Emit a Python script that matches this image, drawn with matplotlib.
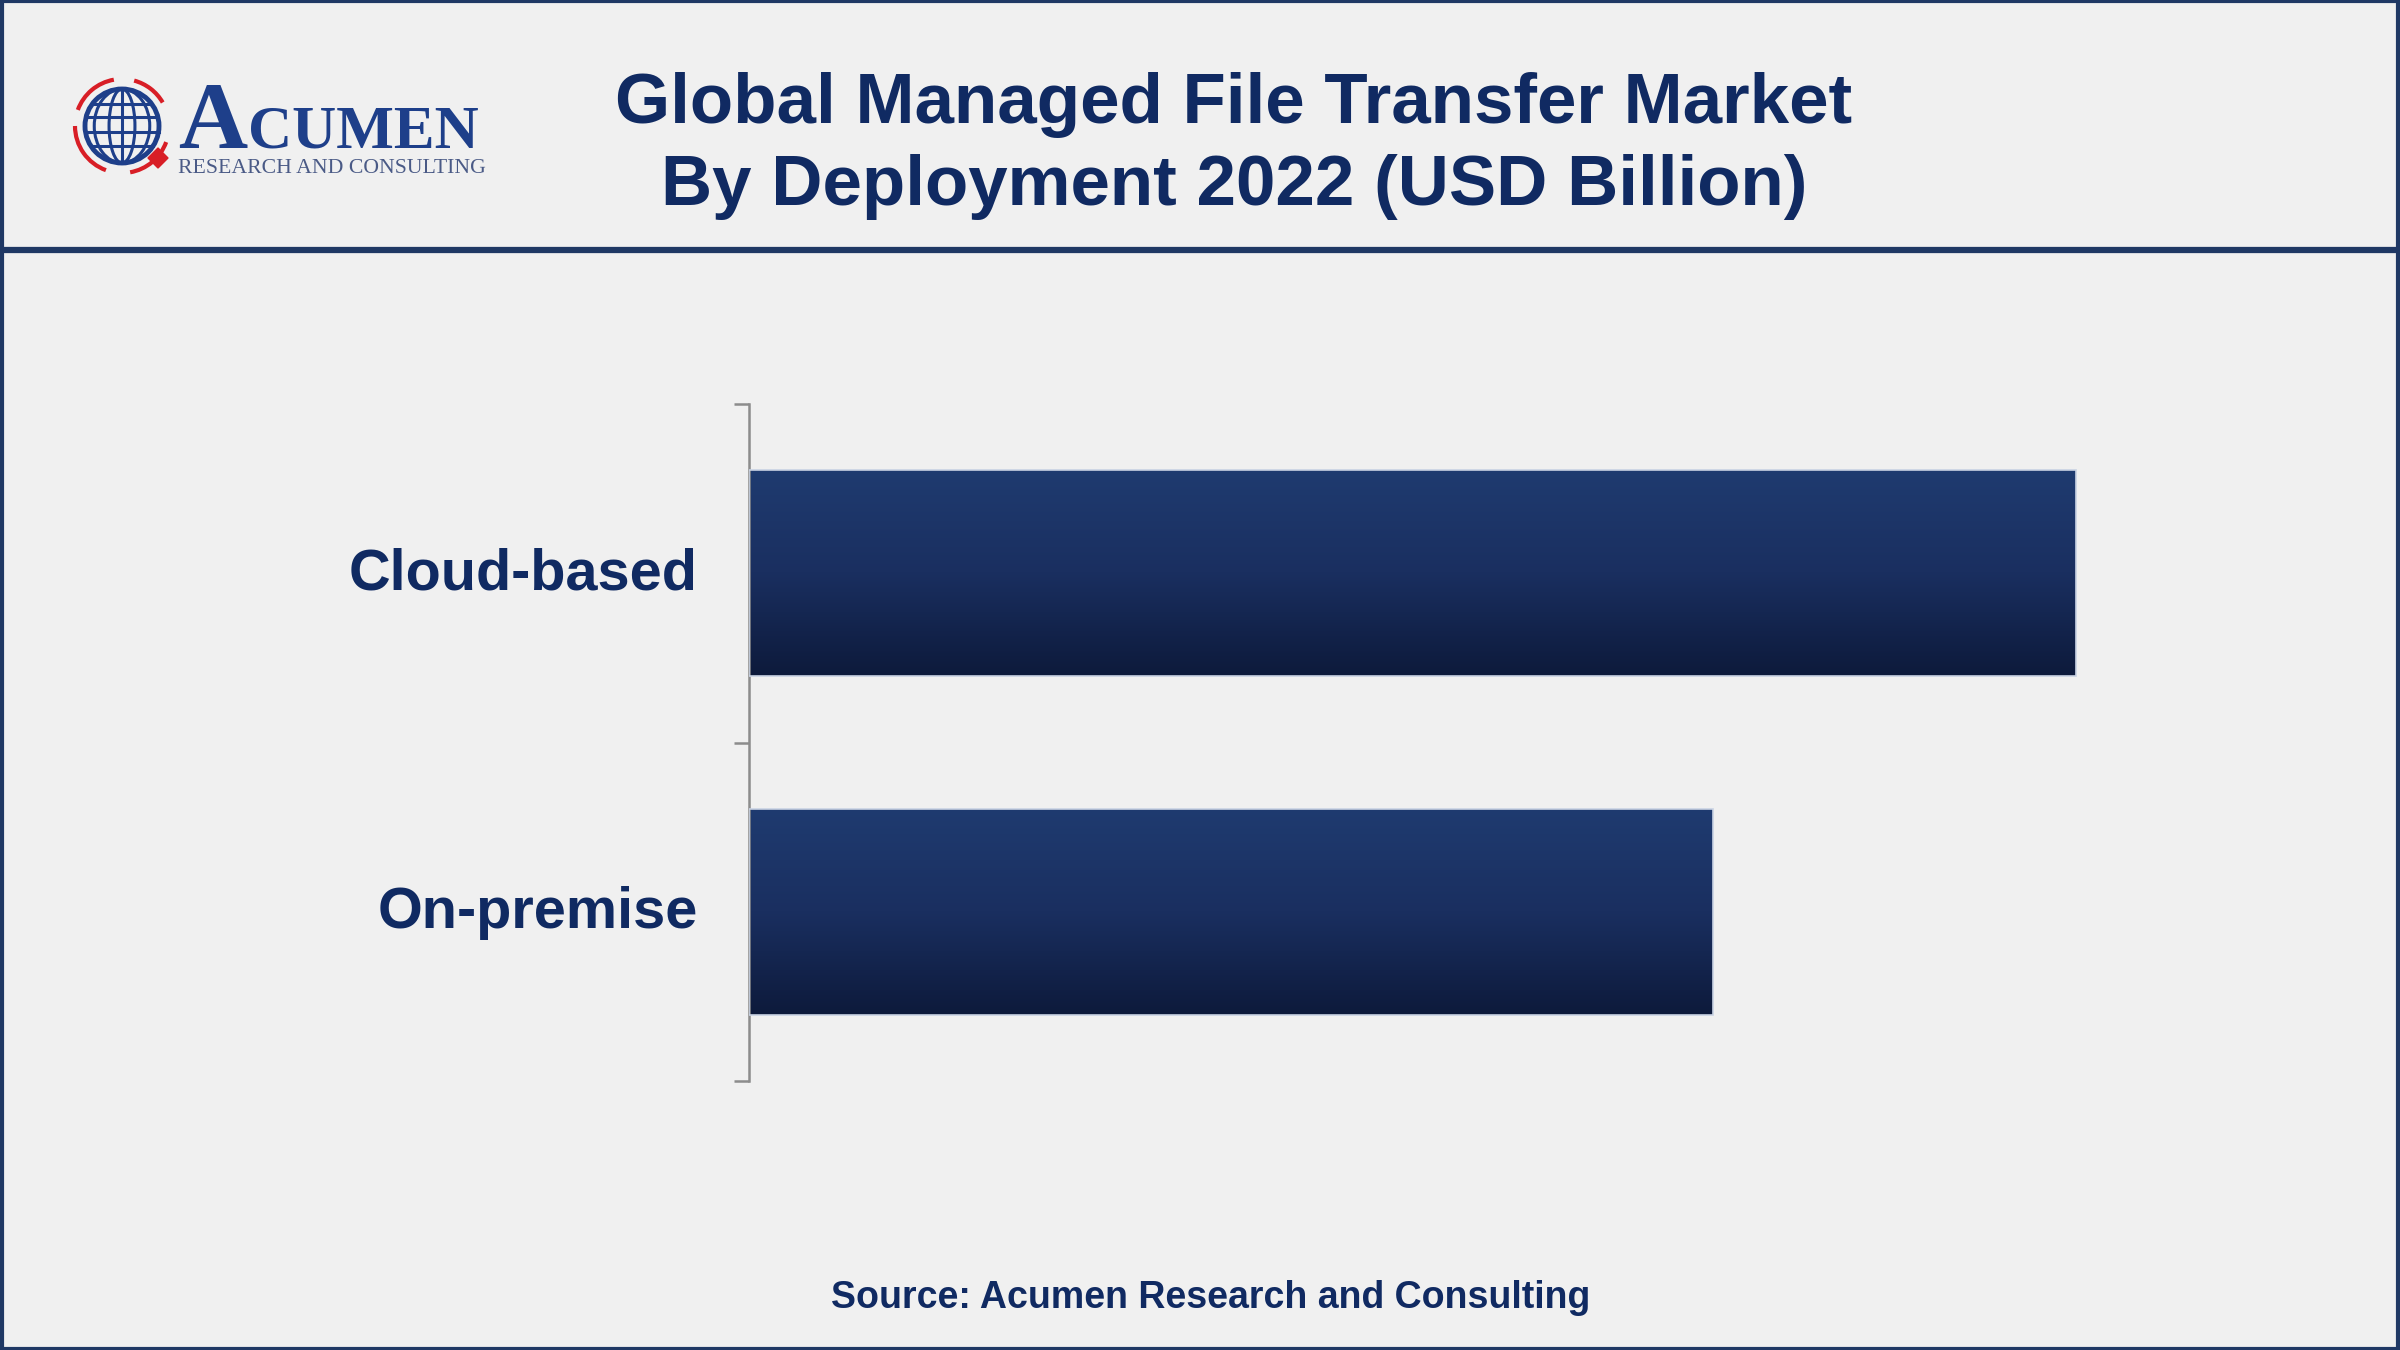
import numpy as np
import matplotlib
matplotlib.use('Agg')
import matplotlib.pyplot as plt
from matplotlib.patches import Circle, Arc, Rectangle, Ellipse, Polygon
from matplotlib.colors import LinearSegmentedColormap
from matplotlib.transforms import ScaledTranslation

# 数据 ---------------------------------------------------------
categories = ["Cloud-based", "On-premise"]
values = [1.06, 0.77]          # USD Billion
title_lines = ["Global Managed File Transfer Market",
               "By Deployment 2022 (USD Billion)"]
source_text = "Source: Acumen Research and Consulting"

navy = "#102a62"
bg = "#f0f0f0"
frame = "#1f3864"

plt.rcParams['font.family'] = ['Liberation Sans', 'DejaVu Sans']

fig = plt.figure(figsize=(24, 13.5), dpi=100, facecolor=bg)

# 外框和标题分隔线 ----------------------------------------------
fig.patches.append(Rectangle((0.0007, 0.001), 0.9986, 0.998, transform=fig.transFigure,
                             fill=False, edgecolor=frame, linewidth=3, zorder=0))
fig.add_artist(plt.Line2D([0, 1], [1 - 250 / 1350] * 2, transform=fig.transFigure,
                          color=frame, linewidth=4.5))

# 标题 ---------------------------------------------------------
fig.text(1234 / 2400, 1 - 105 / 1350, title_lines[0], ha='center', va='center',
         fontsize=51, fontweight='bold', color=navy)
fig.text(1234 / 2400, 1 - 187 / 1350, title_lines[1], ha='center', va='center',
         fontsize=51, fontweight='bold', color=navy)

# 来源 ---------------------------------------------------------
fig.text(1211 / 2400, 1 - 1298 / 1350, source_text, ha='center', va='center',
         fontsize=27, fontweight='bold', color=navy)

# Logo ---------------------------------------------------------
lax = fig.add_axes([0, 1 - 250 / 1350, 500 / 2400, 250 / 1350])
lax.set_xlim(0, 500)
lax.set_ylim(250, 0)
lax.set_aspect('equal')
lax.axis('off')
blue = "#1e3f8a"
red = "#d81e26"
cx, cy, r = 122, 126, 37
lax.add_patch(Circle((cx, cy), r, fill=False, edgecolor=blue, linewidth=3.5))
for w in [0.35, 0.75]:
    lax.add_patch(Ellipse((cx, cy), 2 * r * w, 2 * r, fill=False, edgecolor=blue, linewidth=2.2))
for dy in [-0.6, -0.25, 0.15, 0.55]:
    half = r * np.sqrt(1 - dy ** 2)
    lax.plot([cx - half, cx + half], [cy + dy * r, cy + dy * r], color=blue, linewidth=2.2)
lax.plot([cx, cx], [cy - r, cy + r], color=blue, linewidth=2.2)
for t1, t2 in [(20, 80), (110, 180), (200, 260), (285, 330)]:
    lax.add_patch(Arc((cx, cy), 2 * r + 20, 2 * r + 20, theta1=t1, theta2=t2,
                      edgecolor=red, linewidth=3))
lax.add_patch(Polygon([[158, 148], [168, 158], [158, 168], [148, 158]], color=red))
tA = lax.text(178, 148, "A", fontsize=69, color=blue, family='Liberation Serif',
              fontweight='bold', ha='left', va='baseline')
lax.text(178, 173, "RESEARCH AND CONSULTING", fontsize=15.7, color="#4a5a86",
         family='Liberation Serif', ha='left', va='baseline')
fig.canvas.draw()
bbA = tA.get_window_extent().transformed(lax.transData.inverted())
lax.text(bbA.x1 + 1, 148, "CUMEN", fontsize=44, color=blue, family='Liberation Serif',
         fontweight='bold', ha='left', va='baseline')

# 条形图 -------------------------------------------------------
ax = fig.add_axes([749 / 2400, 1 - 1081 / 1350, 1502 / 2400, 677 / 1350])
ax.set_facecolor(bg)
pos = np.arange(len(categories))
bars = ax.barh(pos, values, height=0.61, color='none', edgecolor='#c9d2e3',
               linewidth=1.2, zorder=3)

grad = np.linspace(0, 1, 256).reshape(-1, 1)
cmap = LinearSegmentedColormap.from_list('bar', ['#1f3b70', '#1a2f60', '#0d1a3b'])
for b in bars:
    x0, y0 = b.get_x(), b.get_y()
    im = ax.imshow(grad, cmap=cmap, aspect='auto', interpolation='bilinear',
                   extent=[x0, x0 + b.get_width(), y0 + b.get_height(), y0], zorder=2)
    im.set_clip_path(b)
ax.set_xlim(0, 1.2)
ax.set_ylim(1.5, -0.5)

for s in ['top', 'right', 'bottom']:
    ax.spines[s].set_visible(False)
ax.spines['left'].set_color('#8c8c8c')
ax.spines['left'].set_linewidth(1.8)
ax.set_xticks([])
ax.set_yticks(pos)
ax.set_yticklabels(categories, fontsize=41.5, fontweight='bold', color=navy)
ax.tick_params(axis='y', which='major', length=0, pad=37)
ax.set_yticks([-0.5, 0.5, 1.5], minor=True)
ax.tick_params(axis='y', which='minor', length=11, width=1.8, color='#8c8c8c')
shift = ScaledTranslation(0, 4.5 / 100, fig.dpi_scale_trans)
for lbl in ax.get_yticklabels():
    lbl.set_transform(lbl.get_transform() + shift)

fig.savefig('out.png', dpi=100, facecolor=bg)
